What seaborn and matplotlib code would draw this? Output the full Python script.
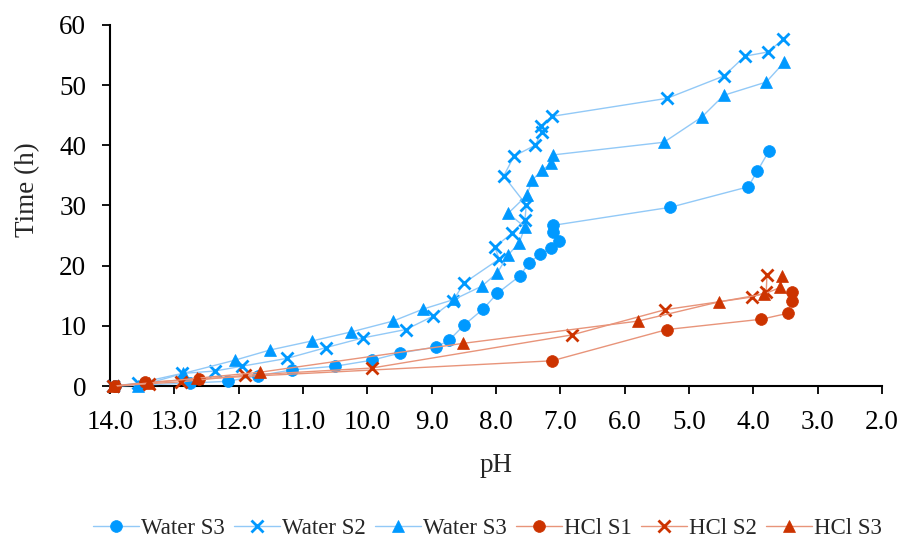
import matplotlib
matplotlib.use("Agg")
import matplotlib.pyplot as plt
import seaborn as sns
import pandas as pd

# pH / time readings for each sample
water_s3a_ph = [13.92, 12.76, 12.17, 11.70, 11.17, 10.50, 9.93, 9.49, 8.93, 8.73, 8.50, 8.20, 7.98,
                7.63, 7.49, 7.32, 7.14, 7.02, 7.11, 7.11, 5.29, 4.08, 3.94, 3.76]
water_s3a_t = [0.0, 0.5, 0.8, 1.7, 2.7, 3.3, 4.3, 5.5, 6.5, 7.6, 10.1, 12.8, 15.4,
               18.3, 20.4, 21.9, 22.9, 24.1, 25.6, 26.7, 29.7, 33.1, 35.7, 39.0]

water_s2_ph = [13.95, 13.56, 12.88, 12.37, 11.95, 11.25, 10.64, 10.07, 9.40, 8.98, 8.67, 8.50,
               7.95, 8.02, 7.75, 7.55, 7.53, 7.88, 7.72, 7.39, 7.29, 7.30, 7.13,
               5.34, 4.46, 4.13, 3.77, 3.54]
water_s2_t = [0.0, 0.5, 2.1, 2.5, 3.3, 4.6, 6.4, 8.0, 9.4, 11.6, 14.1, 17.1,
              21.1, 23.1, 25.4, 27.6, 30.1, 34.9, 38.2, 40.0, 42.2, 43.2, 44.8,
              47.8, 51.5, 54.8, 55.5, 57.6]

water_s3b_ph = [13.56, 12.86, 12.06, 11.51, 10.86, 10.25, 9.60, 9.13, 8.65, 8.22, 7.98, 7.81,
                7.64, 7.55, 7.81, 7.52, 7.44, 7.28, 7.14, 7.11, 5.39, 4.80, 4.46, 3.80, 3.52]
water_s3b_t = [0.0, 2.1, 4.3, 6.0, 7.5, 9.0, 10.8, 12.8, 14.4, 16.6, 18.8, 21.8,
               23.8, 26.4, 28.7, 31.7, 34.2, 35.9, 37.0, 38.4, 40.5, 44.7, 48.3, 50.5, 53.8]

hcl_s1_ph = [13.92, 13.45, 12.62, 7.13, 5.34, 3.88, 3.46, 3.40, 3.40]
hcl_s1_t = [0.0, 0.6, 1.2, 4.2, 9.4, 11.1, 12.1, 14.1, 15.6]

hcl_s2_ph = [13.95, 13.40, 12.90, 11.90, 9.93, 6.82, 5.37, 4.02, 3.80, 3.79]
hcl_s2_t = [0.0, 0.4, 0.7, 1.8, 3.0, 8.5, 12.7, 14.8, 15.6, 18.4]

hcl_s3_ph = [13.95, 13.40, 12.65, 11.67, 8.51, 5.79, 4.53, 3.83, 3.58, 3.55]
hcl_s3_t = [0.0, 0.5, 1.3, 2.3, 7.1, 10.8, 14.0, 15.3, 16.4, 18.3]

series_labels = ["Water S3", "Water S2", "Water S3", "HCl S1", "HCl S2", "HCl S3"]
series_data = [(water_s3a_ph, water_s3a_t), (water_s2_ph, water_s2_t), (water_s3b_ph, water_s3b_t),
               (hcl_s1_ph, hcl_s1_t), (hcl_s2_ph, hcl_s2_t), (hcl_s3_ph, hcl_s3_t)]

BLUE, BLUE_LINE = "#0099FF", "#92C9F7"
RED, RED_LINE = "#CC3300", "#E8947A"
styles = [
    dict(marker="o", mc=BLUE, lc=BLUE_LINE),
    dict(marker="x", mc=BLUE, lc=BLUE_LINE),
    dict(marker="^", mc=BLUE, lc=BLUE_LINE),
    dict(marker="o", mc=RED, lc=RED_LINE),
    dict(marker="x", mc=RED, lc=RED_LINE),
    dict(marker="^", mc=RED, lc=RED_LINE),
]

sns.set_theme(style="white")
plt.rcParams["font.family"] = ["Liberation Serif", "DejaVu Serif"]

fig = plt.figure(figsize=(9.01, 5.40), dpi=100)
ax = fig.add_axes([0.122, 0.285, 0.857, 0.669])

for label, (ph, t), st in zip(series_labels, series_data, styles):
    df = pd.DataFrame({"pH": ph, "Time": t})
    is_x = st["marker"] == "x"
    sns.lineplot(data=df, x="pH", y="Time", sort=False, estimator=None, ax=ax,
                 color=st["lc"], linewidth=1.0, marker=st["marker"],
                 markersize=9 if is_x else 8.5,
                 markerfacecolor=st["mc"], markeredgecolor=st["mc"],
                 markeredgewidth=2.0 if is_x else 0.5, label=label,
                 clip_on=False, zorder=3)

handles, labels = ax.get_legend_handles_labels()
if ax.get_legend() is not None:
    ax.get_legend().remove()

ax.set_xlim(14, 2)
ax.set_ylim(0, 60)
ticks_x = [14, 13, 12, 11, 10, 9, 8, 7, 6, 5, 4, 3, 2]
ax.set_xticks(ticks_x)
ax.set_xticklabels([f"{v:.1f}" for v in ticks_x])
ax.set_yticks([0, 10, 20, 30, 40, 50, 60])

for side in ["top", "right"]:
    ax.spines[side].set_visible(False)
for side in ["left", "bottom"]:
    ax.spines[side].set_color("black")
    ax.spines[side].set_linewidth(1.5)

ax.tick_params(axis="both", which="major", direction="out", length=6, width=1.3,
               colors="black", labelsize=19.5, left=True, bottom=True)
ax.tick_params(axis="x", pad=11)
ax.tick_params(axis="y", pad=11)

ax.set_xlabel("pH", fontsize=19.5, labelpad=13)
ax.set_ylabel("Time (h)", fontsize=19.5)
ax.yaxis.set_label_coords(-0.091, 0.545)

fig.legend(handles, labels, loc="center", bbox_to_anchor=(0.541, 0.022), ncol=6,
           frameon=False, fontsize=16.5, handlelength=2.0, handletextpad=0.1,
           columnspacing=0.4)

fig.savefig("out.png", dpi=100)
